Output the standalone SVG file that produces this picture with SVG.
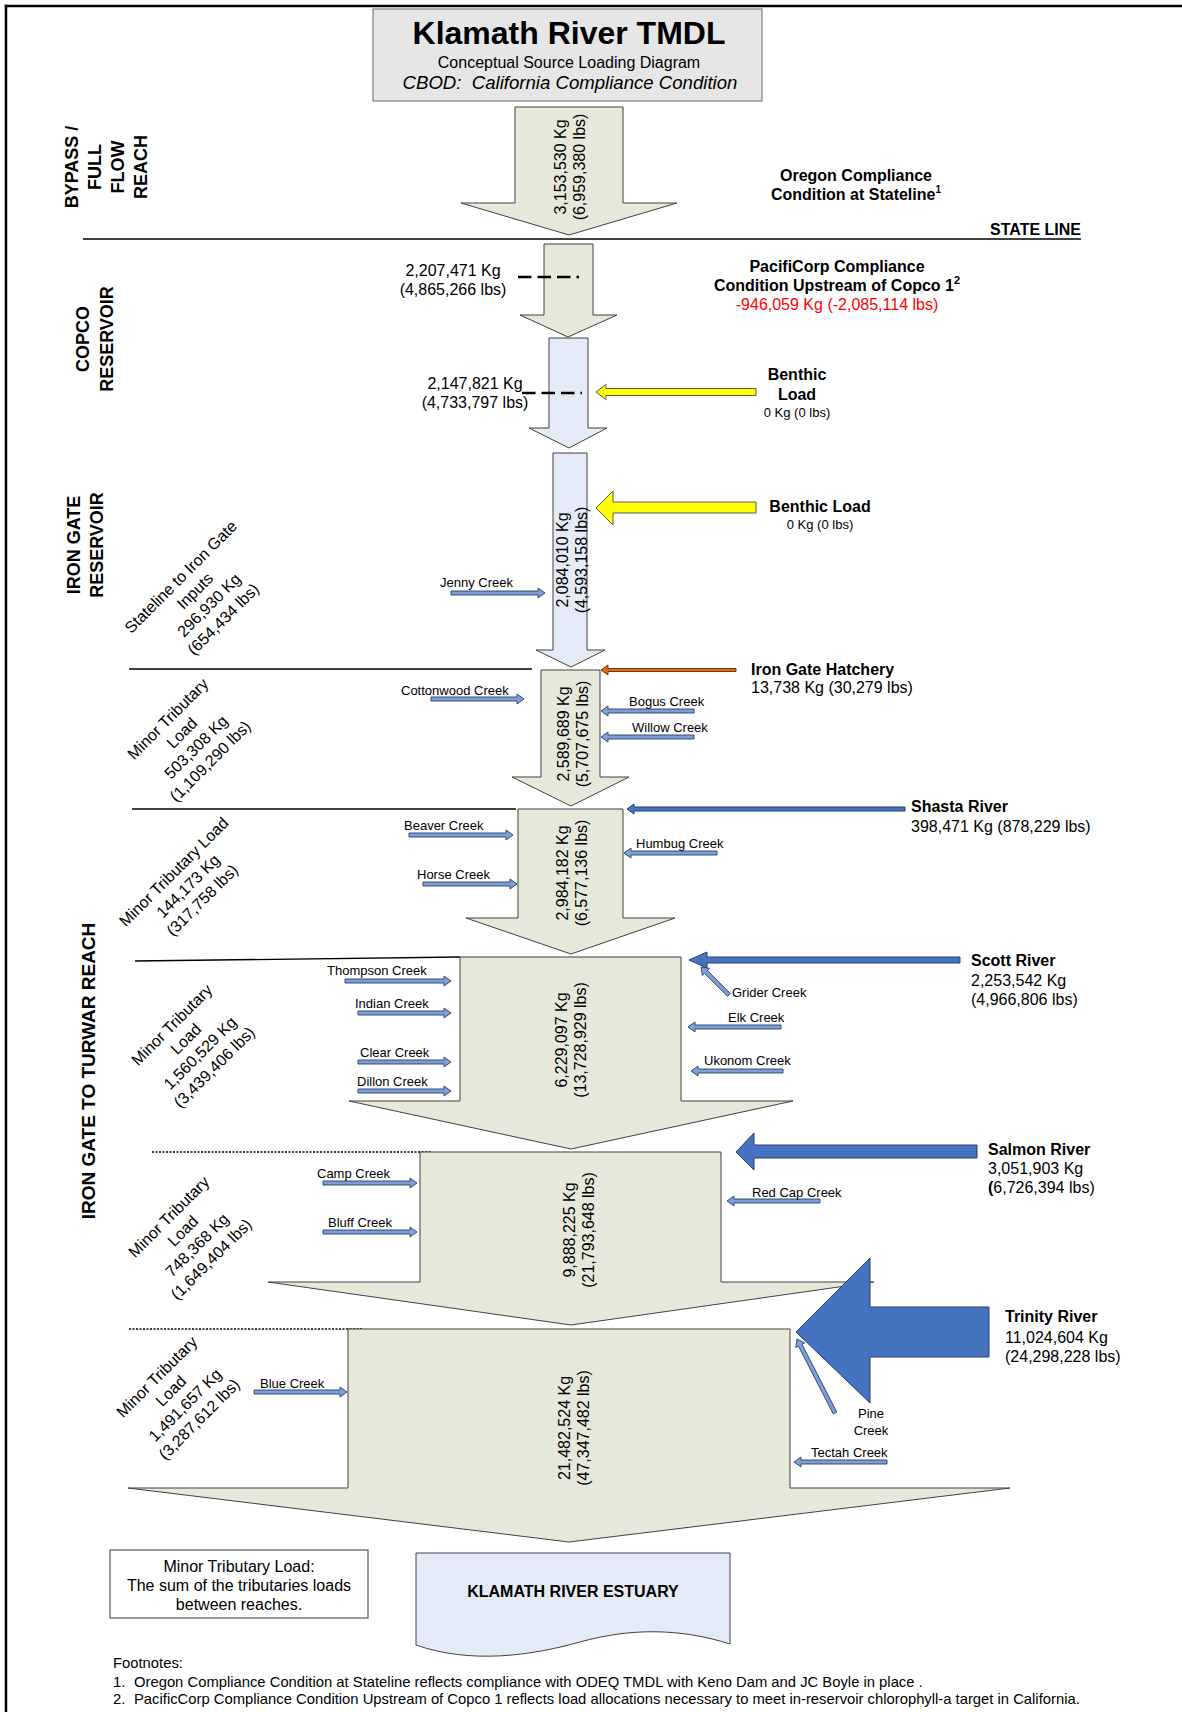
<svg xmlns="http://www.w3.org/2000/svg" width="1182" height="1712" viewBox="0 0 1182 1712">
<style>
text{font-family:"Liberation Sans",Arial,sans-serif;fill:#000}
.b{font-weight:bold}
.s16{font-size:16px}
.s13{font-size:13px}
.s14{font-size:14.8px}
.s18{font-size:18px}
.mid{text-anchor:middle}
.end{text-anchor:end}
.riverG{fill:#E6E9D9;stroke:#404040;stroke-width:1}
.riverB{fill:#E4EAF6;stroke:#404040;stroke-width:1}
.creek{fill:#7F9FD3;stroke:#243F73;stroke-width:0.9}
.major{fill:#4673C0;stroke:#25406E;stroke-width:1}
.yellow{fill:#FFFF00;stroke:#595959;stroke-width:1}
.reach{stroke:#000;stroke-width:1.3;fill:none}
.dotted{stroke:#000;stroke-width:1.5;stroke-dasharray:2 1.5;fill:none}
.dash{stroke:#000;stroke-width:2.5;stroke-dasharray:13.5 6;fill:none}
</style>

<g id="frame">
<line x1="4.75" y1="6" x2="1182" y2="6" stroke="#000" stroke-width="2.5"/>
<line x1="6" y1="4.75" x2="6" y2="1712" stroke="#000" stroke-width="2.5"/>
</g>

<g id="title">
<rect x="373" y="9" width="389" height="92" fill="#E6E6E6" stroke="#7F7F7F" stroke-width="1.2"/>
<text x="569" y="44" class="b mid" font-size="32">Klamath River TMDL</text>
<text x="569" y="68" class="s16 mid">Conceptual Source Loading Diagram</text>
<text x="570" y="89" class="mid" font-size="18.6" font-style="italic">CBOD:&#160; California Compliance Condition</text>
</g>

<g id="reach-lines">
<line class="reach" x1="83" y1="239" x2="1081" y2="239"/>
<line class="reach" x1="129" y1="669" x2="532" y2="669"/>
<line class="reach" x1="132" y1="809" x2="516" y2="809"/>
<line class="reach" x1="135" y1="961" x2="460" y2="957"/>
<line class="dotted" x1="152" y1="1152" x2="432" y2="1152"/>
<line class="dotted" x1="129" y1="1329" x2="362" y2="1329"/>
</g>

<g id="reach-labels">
<text class="b s18 mid" transform="translate(78,167) rotate(-90)"><tspan x="0" y="0">BYPASS /</tspan><tspan x="0" y="23">FULL</tspan><tspan x="0" y="46">FLOW</tspan><tspan x="0" y="69">REACH</tspan></text>
<text class="b s18 mid" transform="translate(89,339) rotate(-90)"><tspan x="0" y="0">COPCO</tspan><tspan x="0" y="24">RESERVOIR</tspan></text>
<text class="b s18 mid" transform="translate(80,545) rotate(-90)"><tspan x="0" y="0">IRON GATE</tspan><tspan x="0" y="23">RESERVOIR</tspan></text>
<text class="b mid" font-size="19" transform="translate(95,1071) rotate(-90)">IRON GATE TO TURWAR REACH</text>
<text class="b s16 end" x="1081" y="235">STATE LINE</text>
</g>

<g id="minor-loads">
<text class="s16 mid" transform="translate(202,598) rotate(-45)"><tspan x="0" y="-24.5">Stateline to Iron Gate</tspan><tspan x="0" y="-4.5">Inputs</tspan><tspan x="0" y="15.5">296,930 Kg</tspan><tspan x="0" y="35.5">(654,434 lbs)</tspan></text>
<text class="s16 mid" transform="translate(189,740) rotate(-45)"><tspan x="0" y="-24.5">Minor Tributary</tspan><tspan x="0" y="-4.5">Load</tspan><tspan x="0" y="15.5">503,308 Kg</tspan><tspan x="0" y="35.5">(1,109,290 lbs)</tspan></text>
<text class="s16 mid" transform="translate(188,886) rotate(-45)"><tspan x="0" y="-14.5">Minor Tributary Load</tspan><tspan x="0" y="5.5">144,173 Kg</tspan><tspan x="0" y="25.5">(317,758 lbs)</tspan></text>
<text class="s16 mid" transform="translate(193,1046) rotate(-45)"><tspan x="0" y="-24.5">Minor Tributary</tspan><tspan x="0" y="-4.5">Load</tspan><tspan x="0" y="15.5">1,560,529 Kg</tspan><tspan x="0" y="35.5">(3,439,406 lbs)</tspan></text>
<text class="s16 mid" transform="translate(190,1238) rotate(-45)"><tspan x="0" y="-24.5">Minor Tributary</tspan><tspan x="0" y="-4.5">Load</tspan><tspan x="0" y="15.5">748,368 Kg</tspan><tspan x="0" y="35.5">(1,649,404 lbs)</tspan></text>
<text class="s16 mid" transform="translate(178,1398) rotate(-45)"><tspan x="0" y="-24.5">Minor Tributary</tspan><tspan x="0" y="-4.5">Load</tspan><tspan x="0" y="15.5">1,491,657 Kg</tspan><tspan x="0" y="35.5">(3,287,612 lbs)</tspan></text>
</g>

<g id="river-stateline">
<polygon class="riverG" points="515,107 623,107 623,203 677,203 569,235 461,203 515,203"/>
<text class="s16 mid" transform="translate(566,167) rotate(-90)"><tspan x="0" y="0">3,153,530 Kg</tspan><tspan x="0" y="19">(6,959,380 lbs)</tspan></text>
</g>

<g id="oregon-condition">
<text class="b s16 mid" x="856" y="181">Oregon Compliance</text>
<text class="b s16 mid" x="856" y="200">Condition at Stateline<tspan font-size="10" dy="-7">1</tspan></text>
</g>

<g id="river-copco-upper">
<polygon class="riverG" points="544,244 593,244 593,315 617,315 568,337 520,315 544,315"/>
<line class="dash" x1="518" y1="277" x2="579" y2="277"/>
<text class="s16 mid" x="453" y="276">2,207,471 Kg</text>
<text class="s16 mid" x="453" y="295">(4,865,266 lbs)</text>
</g>

<g id="pacificorp-condition">
<text class="b s16 mid" x="837" y="272">PacifiCorp Compliance</text>
<text class="b s16 mid" x="837" y="291">Condition Upstream of Copco 1<tspan font-size="11" dy="-7">2</tspan></text>
<text class="s16 mid" x="837" y="310" style="fill:#FF0000">-946,059 Kg (-2,085,114 lbs)</text>
</g>

<g id="river-copco-lower">
<polygon class="riverB" points="549,338 588,338 588,428 607,428 569,448 529,428 549,428"/>
<line class="dash" x1="522" y1="393" x2="582" y2="393"/>
<text class="s16 mid" x="475" y="389">2,147,821 Kg</text>
<text class="s16 mid" x="475" y="408">(4,733,797 lbs)</text>
</g>

<g id="river-irongate">
<polygon class="riverB" points="553,453 587,453 587,650 605,650 571,667 536,650 553,650"/>
<text class="s16 mid" transform="translate(568,560) rotate(-90)"><tspan x="0" y="0">2,084,010 Kg</tspan><tspan x="0" y="19">(4,593,158 lbs)</tspan></text>
</g>

<g id="river-below-irongate">
<polygon class="riverG" points="541,670 600,670 600,777 629,777 571,806 512,777 541,777"/>
<text class="s16 mid" transform="translate(569,734) rotate(-90)"><tspan x="0" y="0">2,589,689 Kg</tspan><tspan x="0" y="19">(5,707,675 lbs)</tspan></text>
</g>

<g id="river-shasta">
<polygon class="riverG" points="518,809 623,809 623,918 675,918 571,954 466,918 518,918"/>
<text class="s16 mid" transform="translate(568,873) rotate(-90)"><tspan x="0" y="0">2,984,182 Kg</tspan><tspan x="0" y="19">(6,577,136 lbs)</tspan></text>
</g>

<g id="river-scott">
<polygon class="riverG" points="460,957 681,957 681,1101 793,1101 571,1149 349,1101 460,1101"/>
<text class="s16 mid" transform="translate(567,1040) rotate(-90)"><tspan x="0" y="0">6,229,097 Kg</tspan><tspan x="0" y="19">(13,728,929 lbs)</tspan></text>
</g>

<g id="river-salmon">
<polygon class="riverG" points="420,1152 721,1152 721,1282 874,1282 571,1325 268,1282 420,1282"/>
<text class="s16 mid" transform="translate(575,1230) rotate(-90)"><tspan x="0" y="0">9,888,225 Kg</tspan><tspan x="0" y="19">(21,793,648 lbs)</tspan></text>
</g>

<g id="river-trinity">
<polygon class="riverG" points="348,1329 790,1329 790,1488 1010,1488 569,1542 128,1488 348,1488"/>
<text class="s16 mid" transform="translate(570,1428) rotate(-90)"><tspan x="0" y="0">21,482,524 Kg</tspan><tspan x="0" y="19">(47,347,482 lbs)</tspan></text>
</g>

<g id="connectors">
<polygon class="yellow" points="756,388.5 606,388.5 606,384.5 596,392 606,399.5 606,395.5 756,395.5"/>
<polygon class="yellow" points="756,502 613,502 613,491 596,508 613,525 613,513 756,513"/>
<polygon points="736,668.5 608,668.5 608,665 601,670 608,675 608,671.5 736,671.5" fill="#E46C0A" stroke="#5a2a00" stroke-width="0.9"/>
<polygon class="major" points="905,807 634,807 634,804 627,809 634,814 634,811 905,811"/>
<polygon class="major" points="960,957 707,957 707,952 689,960 707,968 707,963 960,963"/>
<polygon class="major" points="977,1145 754,1145 754,1133 736,1152 754,1170 754,1158 977,1158"/>
<polygon class="major" points="989,1307 870,1307 870,1258 796,1332 870,1403 870,1357 989,1357"/>

<polygon class="creek" points="451,591 538,591 538,588 545,593 538,598 538,595 451,595"/>
<polygon class="creek" points="431,697 517,697 517,694 524,699 517,704 517,701 431,701"/>
<polygon class="creek" points="409,833 506,833 506,830 513,835 506,840 506,837 409,837"/>
<polygon class="creek" points="423,882 510,882 510,879 517,884 510,889 510,886 423,886"/>
<polygon class="creek" points="345,979 444,979 444,976 451,981 444,986 444,983 345,983"/>
<polygon class="creek" points="358,1011 444,1011 444,1008 451,1013 444,1018 444,1015 358,1015"/>
<polygon class="creek" points="358,1060 444,1060 444,1057 451,1062 444,1067 444,1064 358,1064"/>
<polygon class="creek" points="358,1089 444,1089 444,1086 451,1091 444,1096 444,1093 358,1093"/>
<polygon class="creek" points="323,1181 410,1181 410,1178 417,1183 410,1188 410,1185 323,1185"/>
<polygon class="creek" points="323,1230 410,1230 410,1227 417,1232 410,1237 410,1234 323,1234"/>
<polygon class="creek" points="254,1390 340,1390 340,1387 347,1392 340,1397 340,1394 254,1394"/>

<polygon class="creek" points="694,709 608,709 608,706 601,711 608,716 608,713 694,713"/>
<polygon class="creek" points="694,735 608,735 608,732 601,737 608,742 608,739 694,739"/>
<polygon class="creek" points="717,851 631,851 631,848 624,853 631,858 631,855 717,855"/>
<polygon class="creek" points="781,1025 695,1025 695,1022 688,1027 695,1032 695,1029 781,1029"/>
<polygon class="creek" points="783,1069 698,1069 698,1066 691,1071 698,1076 698,1073 783,1073"/>
<polygon class="creek" points="820,1199 734,1199 734,1196 727,1201 734,1206 734,1203 820,1203"/>
<polygon class="creek" points="887,1460 801,1460 801,1457 794,1462 801,1467 801,1464 887,1464"/>
<polygon class="creek" points="730.4,993.6 707.4,970.5 709.5,968.4 701,967 702.4,975.5 704.5,973.4 727.6,996.4"/>
<polygon class="creek" points="836.8,1412.1 802,1344.3 804.65,1342.9 797,1339 795.75,1347.5 798.4,1346.1 833.2,1413.9"/>
</g>

<g id="source-labels">
<text class="b s16 mid" x="797" y="380">Benthic</text>
<text class="b s16 mid" x="797" y="400">Load</text>
<text class="s13 mid" x="797" y="417">0 Kg (0 lbs)</text>
<text class="b s16 mid" x="820" y="512">Benthic Load</text>
<text class="s13 mid" x="820" y="529">0 Kg (0 lbs)</text>
<text class="b s16" x="751" y="675">Iron Gate Hatchery</text>
<text class="s16" x="751" y="693">13,738 Kg (30,279 lbs)</text>
<text class="b s16" x="911" y="812">Shasta River</text>
<text class="s16" x="911" y="832">398,471 Kg (878,229 lbs)</text>
<text class="b s16" x="971" y="966">Scott River</text>
<text class="s16" x="971" y="986">2,253,542 Kg</text>
<text class="s16" x="971" y="1005">(4,966,806 lbs)</text>
<text class="b s16" x="988" y="1155">Salmon River</text>
<text class="s16" x="988" y="1174">3,051,903 Kg</text>
<text class="s16" x="988" y="1193"><tspan font-weight="bold">(</tspan>6,726,394 lbs)</text>
<text class="b s16" x="1005" y="1322">Trinity River</text>
<text class="s16" x="1005" y="1343">11,024,604 Kg</text>
<text class="s16" x="1005" y="1362">(24,298,228 lbs)</text>
</g>

<g id="creek-labels">
<text class="s13" x="440" y="587">Jenny Creek</text>
<text class="s13" x="401" y="695">Cottonwood Creek</text>
<text class="s13" x="629" y="706">Bogus Creek</text>
<text class="s13" x="632" y="732">Willow Creek</text>
<text class="s13" x="404" y="830">Beaver Creek</text>
<text class="s13" x="636" y="848">Humbug Creek</text>
<text class="s13" x="417" y="879">Horse Creek</text>
<text class="s13" x="327" y="975">Thompson Creek</text>
<text class="s13" x="355" y="1008">Indian Creek</text>
<text class="s13" x="360" y="1057">Clear Creek</text>
<text class="s13" x="357" y="1086">Dillon Creek</text>
<text class="s13" x="732" y="997">Grider Creek</text>
<text class="s13" x="728" y="1022">Elk Creek</text>
<text class="s13" x="704" y="1065">Ukonom Creek</text>
<text class="s13" x="317" y="1178">Camp Creek</text>
<text class="s13" x="328" y="1227">Bluff Creek</text>
<text class="s13" x="752" y="1197">Red Cap Creek</text>
<text class="s13" x="260" y="1388">Blue Creek</text>
<text class="s13 mid" x="871" y="1418">Pine</text>
<text class="s13 mid" x="871" y="1435">Creek</text>
<text class="s13" x="811" y="1457">Tectah Creek</text>
</g>

<g id="legend">
<rect x="110" y="1550" width="258" height="68" fill="#fff" stroke="#333" stroke-width="1"/>
<text class="s16 mid" x="239" y="1572">Minor Tributary Load:</text>
<text class="s16 mid" x="239" y="1591">The sum of the tributaries loads</text>
<text class="s16 mid" x="239" y="1610">between reaches.</text>
</g>

<g id="estuary">
<path d="M416,1553 H730 V1644 C680,1628 630,1628 580,1642 C530,1656 470,1664 416,1645 Z" fill="#E4EAF6" stroke="#404040" stroke-width="1"/>
<text class="b s16 mid" x="573" y="1597">KLAMATH RIVER ESTUARY</text>
</g>

<g id="footnotes">
<text class="s14" x="113" y="1668">Footnotes:</text>
<text class="s14" y="1687"><tspan x="113">1.</tspan><tspan x="134">Oregon Compliance Condition at Stateline reflects compliance with ODEQ TMDL with Keno Dam and JC Boyle in place .</tspan></text>
<text class="s14" y="1704"><tspan x="113">2.</tspan><tspan x="134">PacificCorp Compliance Condition Upstream of Copco 1 reflects load allocations necessary to meet in-reservoir chlorophyll-a target in California.</tspan></text>
</g>
</svg>
